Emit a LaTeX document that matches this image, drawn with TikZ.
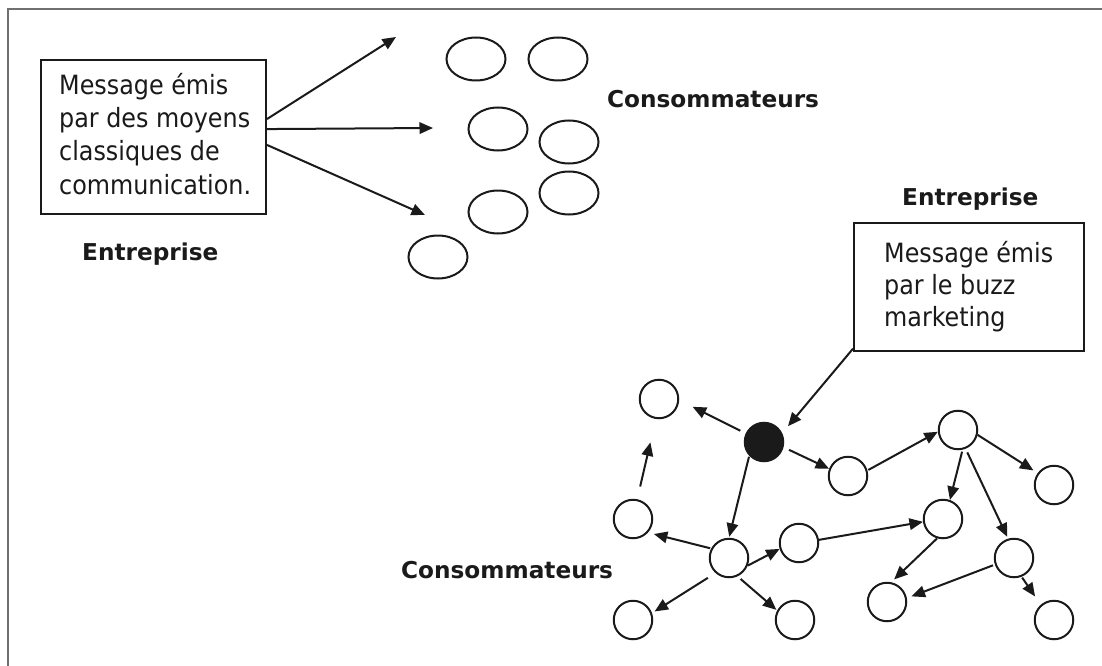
\documentclass[tikz,border=0pt]{standalone}
\usepackage{fontspec}
\setmainfont{DejaVu Sans Condensed}
\newfontfamily\labfont{DejaVu Sans}
\usetikzlibrary{arrows.meta,shapes.geometric}
\definecolor{ink}{HTML}{1A1A1A}
\definecolor{framec}{HTML}{707070}
\begin{document}
\begin{tikzpicture}[x=1pt,y=-1pt,
  ln/.style={draw=ink, line width=2pt},
  arr/.style={ln, -{Triangle[length=13.5pt,width=11.5pt]}},
  person/.style={circle, draw=ink, line width=2pt, minimum size=38.5pt, inner sep=0pt},
  crowd/.style={ellipse, draw=ink, line width=2pt, minimum width=59pt, minimum height=43pt, inner sep=0pt},
  msgbox/.style={rectangle, draw=ink, line width=2pt, inner sep=0pt},
  msg/.style={font=\fontsize{26.5}{33.3}\selectfont, text=ink, align=left, anchor=north west, inner sep=0pt},
  lab/.style={font=\labfont\bfseries\fontsize{23.2}{28}\selectfont, text=ink, anchor=base west, inner sep=0pt}]
\useasboundingbox (0,0) rectangle (1102,666);
\fill[white] (0,0) rectangle (1102,666);
% frame (top and left edges)
\draw[framec, line width=2pt] (7.5,666) -- (7.5,9.5) -- (1102,9.5);

% ---------- top: classical communication ----------
\node[msgbox, minimum width=225pt, minimum height=154pt] (box1) at (153.5,137) {};
\node[msg] (msg1) at (59,70) {\rule{0pt}{24pt}Message émis\\par des moyens\\classiques de\\communication.};
\node[lab] (ent1) at (82,260) {Entreprise};

\node[crowd] (e1) at (476,59) {};
\node[crowd] (e2) at (558,59) {};
\node[crowd] (e3) at (498,129) {};
\node[crowd] (e4) at (569,142) {};
\node[crowd] (e5) at (569,193) {};
\node[crowd] (e6) at (498,212) {};
\node[crowd] (e7) at (438,257) {};
\node[lab] (cons1) at (607,107) {Consommateurs};

\coordinate (t1) at (396,37);
\coordinate (t2) at (433,128);
\coordinate (t3) at (425,215);
\draw[arr] (box1.9.5) -- (t1);
\draw[arr] (box1.4.5) -- (t2);
\draw[arr] (box1.-4) -- (t3);

% ---------- bottom: buzz marketing ----------
\node[lab] (ent2) at (902,205) {Entreprise};
\node[msgbox, minimum width=230pt, minimum height=128pt] (box2) at (969,287) {};
\node[msg, font=\fontsize{26.5}{32}\selectfont] (msg2) at (884,238) {\rule{0pt}{24pt}Message émis\\par le buzz\\marketing};

\node[person] (A) at (659,399) {};
\node[person, fill=ink] (B) at (764,442) {};
\node[person] (C) at (633,519) {};
\node[person] (D) at (729,558) {};
\node[person] (E) at (799,543) {};
\node[person] (F) at (633,620) {};
\node[person] (G) at (795,620) {};
\node[person] (H) at (848,476) {};
\node[person] (I) at (958,430) {};
\node[person] (J) at (1054,485) {};
\node[person] (K) at (943,519) {};
\node[person] (L) at (1014,558) {};
\node[person] (M) at (887,602) {};
\node[person] (N) at (1054,620) {};
\node[lab] (cons2) at (401,578) {Consommateurs};

\draw[arr, shorten >=9pt] (box2.-152) -- (B.26.6);
\draw[arr, shorten <=6pt, shorten >=15pt] (B.155) -- (A.-3);
\draw[arr, shorten <=13pt, shorten >=24pt] (C.78) -- (A.-99);
\draw[arr, shorten <=6pt] (B.-15.6) -- (H.159);
\draw[arr, shorten <=1pt, shorten >=1pt] (B.-137) -- (D.90);
\draw[arr, shorten <=1pt] (H.16) -- (I.185.5);
\draw[arr, shorten >=5pt] (I.-14) -- (J.144.5);
\draw[arr, shorten <=2pt] (I.-77) -- (K.70.6);
\draw[arr, shorten <=4pt, shorten >=2pt] (I.-68.6) -- (L.107.6);
\draw[arr, shorten <=1pt, shorten >=6pt] (D.152) -- (C.-42);
\draw[arr] (D.-22.8) -- (E.-163.6);
\draw[arr, shorten <=9pt, shorten >=3pt] (D.-132) -- (F.20);
\draw[arr, shorten <=4pt, shorten >=1pt] (D.-65.6) -- (G.152);
\draw[arr] (E.9) -- (K.188.5);
\draw[arr, shorten >=4pt] (K.-107.5) -- (M.78);
\draw[arr, shorten <=2pt, shorten >=5pt] (L.-161.6) -- (M.11.3);
\draw[arr, shorten <=1pt, shorten >=10pt] (L.-68) -- (N.131);
\end{tikzpicture}
\end{document}
